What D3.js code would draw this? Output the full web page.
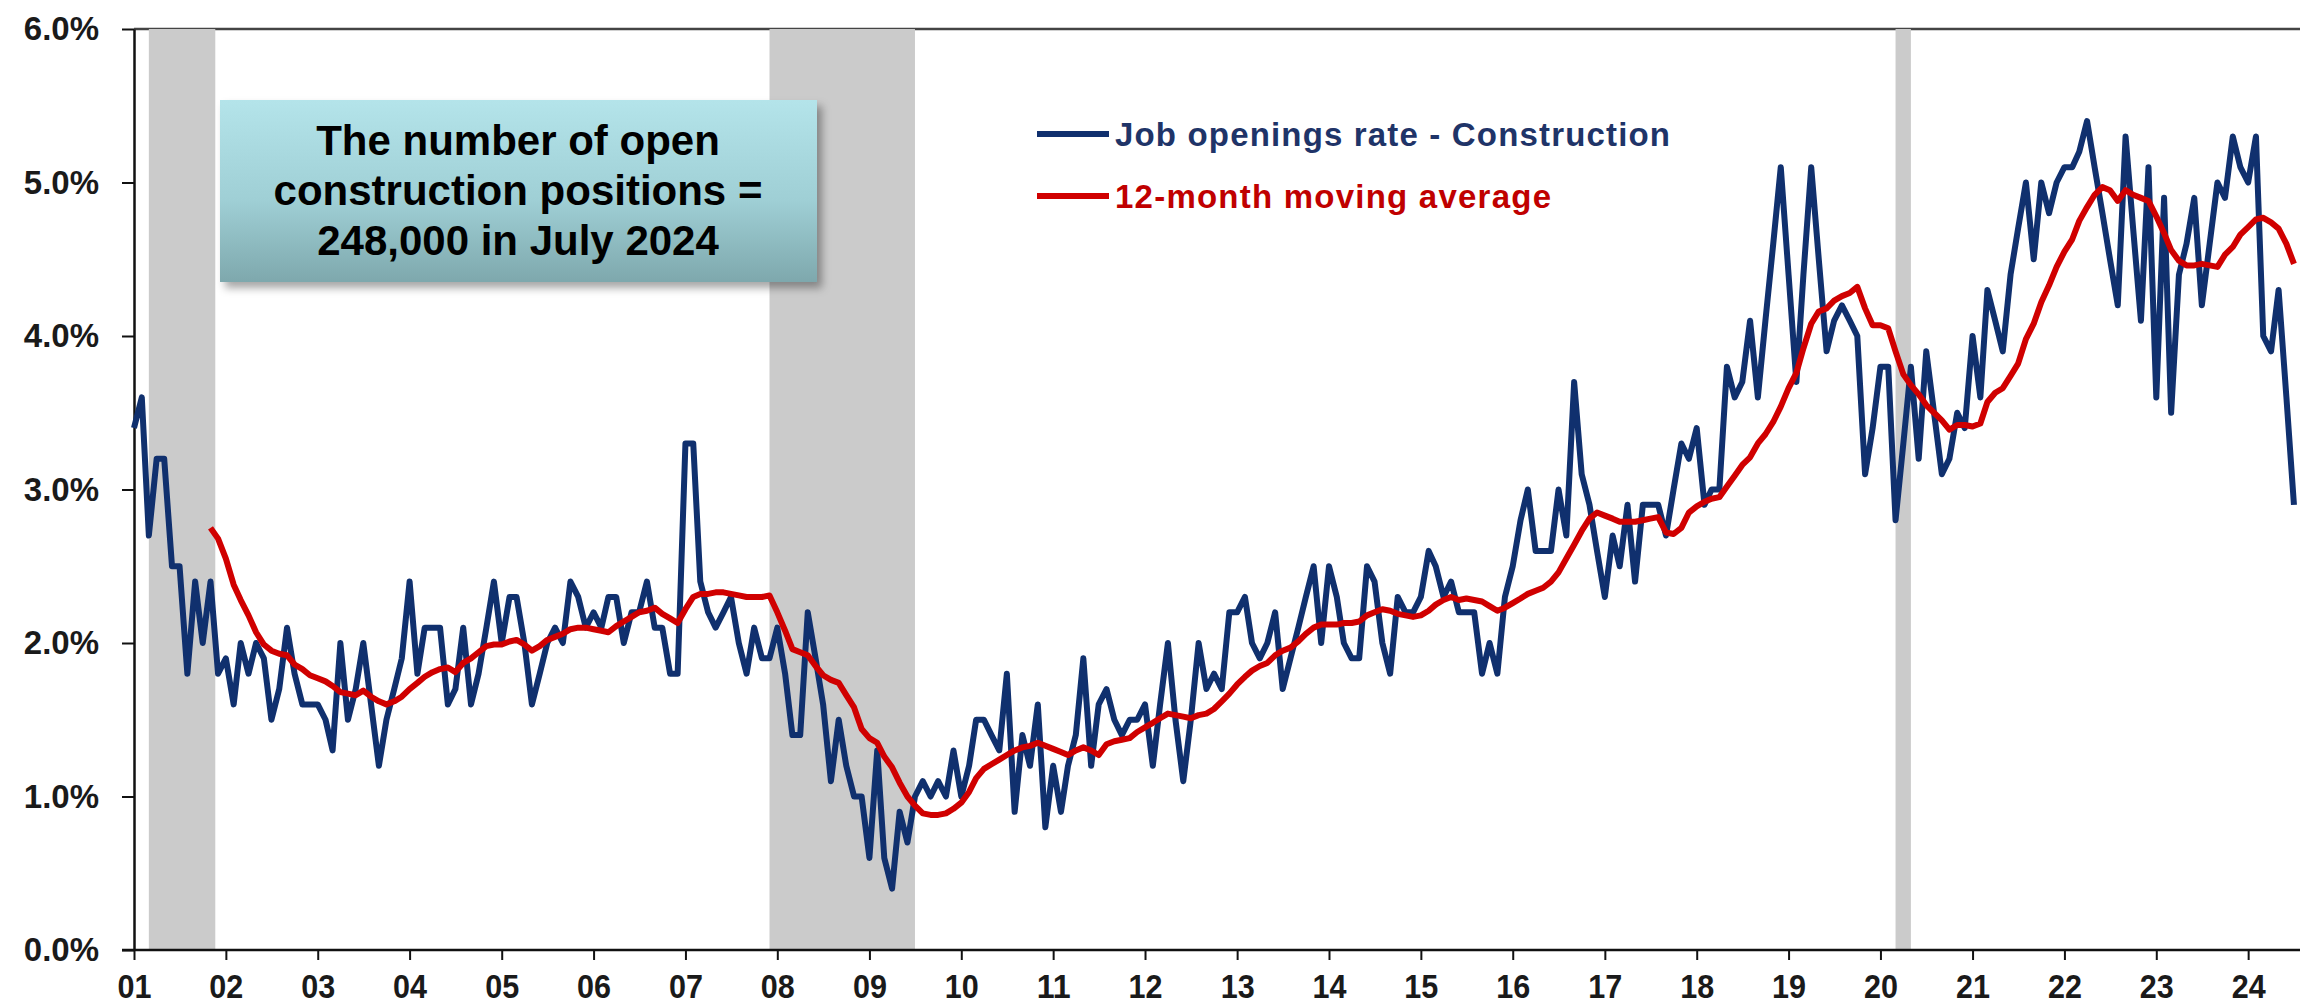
<!DOCTYPE html>
<html>
<head>
  <meta charset="utf-8">
  <title>Job openings rate - Construction</title>
  <script src="https://d3js.org/d3.v7.min.js"></script>
  <style>
    body { margin: 0; background: #fff; }
    text { font-family: "Liberation Sans", Arial, sans-serif; font-weight: bold; }
    .axis text { font-size: 33px; fill: #1a1a1a; }
  </style>
</head>
<body>
  <svg id="chart"></svg>
  <script>
    // monthly job openings rate, construction, Jan 2001 - Jul 2024 (%)
    var openingsRate = [
      3.4, 3.6, 2.7, 3.2, 3.2, 2.5, 2.5, 1.8, 2.4, 2.0, 2.4, 1.8,
      1.9, 1.6, 2.0, 1.8, 2.0, 1.9, 1.5, 1.7, 2.1, 1.8, 1.6, 1.6,
      1.6, 1.5, 1.3, 2.0, 1.5, 1.7, 2.0, 1.6, 1.2, 1.5, 1.7, 1.9,
      2.4, 1.8, 2.1, 2.1, 2.1, 1.6, 1.7, 2.1, 1.6, 1.8, 2.1, 2.4,
      2.0, 2.3, 2.3, 2.0, 1.6, 1.8, 2.0, 2.1, 2.0, 2.4, 2.3, 2.1,
      2.2, 2.1, 2.3, 2.3, 2.0, 2.2, 2.2, 2.4, 2.1, 2.1, 1.8, 1.8,
      3.3, 3.3, 2.4, 2.2, 2.1, 2.2, 2.3, 2.0, 1.8, 2.1, 1.9, 1.9,
      2.1, 1.8, 1.4, 1.4, 2.2, 1.9, 1.6, 1.1, 1.5, 1.2, 1.0, 1.0,
      0.6, 1.3, 0.6, 0.4, 0.9, 0.7, 1.0, 1.1, 1.0, 1.1, 1.0, 1.3,
      1.0, 1.2, 1.5, 1.5, 1.4, 1.3, 1.8, 0.9, 1.4, 1.2, 1.6, 0.8,
      1.2, 0.9, 1.2, 1.4, 1.9, 1.2, 1.6, 1.7, 1.5, 1.4, 1.5, 1.5,
      1.6, 1.2, 1.6, 2.0, 1.5, 1.1, 1.5, 2.0, 1.7, 1.8, 1.7, 2.2,
      2.2, 2.3, 2.0, 1.9, 2.0, 2.2, 1.7, 1.9, 2.1, 2.3, 2.5, 2.0,
      2.5, 2.3, 2.0, 1.9, 1.9, 2.5, 2.4, 2.0, 1.8, 2.3, 2.2, 2.2,
      2.3, 2.6, 2.5, 2.3, 2.4, 2.2, 2.2, 2.2, 1.8, 2.0, 1.8, 2.3,
      2.5, 2.8, 3.0, 2.6, 2.6, 2.6, 3.0, 2.7, 3.7, 3.1, 2.9, 2.6,
      2.3, 2.7, 2.5, 2.9, 2.4, 2.9, 2.9, 2.9, 2.7, 3.0, 3.3, 3.2,
      3.4, 2.9, 3.0, 3.0, 3.8, 3.6, 3.7, 4.1, 3.6, 4.1, 4.6, 5.1,
      4.4, 3.7, 4.4, 5.1, 4.5, 3.9, 4.1, 4.2, 4.1, 4.0, 3.1, 3.4,
      3.8, 3.8, 2.8, 3.3, 3.8, 3.2, 3.9, 3.5, 3.1, 3.2, 3.5, 3.4,
      4.0, 3.6, 4.3, 4.1, 3.9, 4.4, 4.7, 5.0, 4.5, 5.0, 4.8, 5.0,
      5.1, 5.1, 5.2, 5.4, 5.1, 4.8, 4.5, 4.2, 5.3, 4.7, 4.1, 5.1,
      3.6, 4.9, 3.5, 4.4, 4.6, 4.9, 4.2, 4.6, 5.0, 4.9, 5.3, 5.1,
      5.0, 5.3, 4.0, 3.9, 4.3, 3.6, 2.9
    ];

    // 12-month moving average, Nov 2001 - Jul 2024 (%)
    var movingAvg = [
                                                      2.75, 2.68,
      2.55, 2.38, 2.28, 2.18, 2.07, 1.99, 1.95, 1.93, 1.92, 1.86, 1.83, 1.79,
      1.77, 1.75, 1.72, 1.68, 1.67, 1.66, 1.69, 1.65, 1.62, 1.60, 1.62, 1.65,
      1.70, 1.74, 1.78, 1.81, 1.83, 1.84, 1.81, 1.87, 1.90, 1.94, 1.98, 1.99,
      1.99, 2.01, 2.02, 1.99, 1.95, 1.98, 2.02, 2.04, 2.06, 2.09, 2.10, 2.10,
      2.09, 2.08, 2.07, 2.11, 2.14, 2.17, 2.20, 2.21, 2.23, 2.19, 2.16, 2.13,
      2.22, 2.30, 2.32, 2.32, 2.33, 2.33, 2.32, 2.31, 2.30, 2.30, 2.30, 2.31,
      2.20, 2.08, 1.96, 1.94, 1.92, 1.85, 1.79, 1.76, 1.74, 1.66, 1.58, 1.44,
      1.38, 1.35, 1.26, 1.19, 1.09, 1.00, 0.94, 0.89, 0.88, 0.88, 0.89, 0.92,
      0.96, 1.03, 1.12, 1.18, 1.21, 1.24, 1.27, 1.30, 1.32, 1.33, 1.35, 1.33,
      1.31, 1.29, 1.27, 1.30, 1.32, 1.30, 1.27, 1.34, 1.36, 1.37, 1.38, 1.42,
      1.45, 1.48, 1.51, 1.54, 1.53, 1.52, 1.51, 1.53, 1.54, 1.57, 1.62, 1.67,
      1.73, 1.78, 1.82, 1.85, 1.87, 1.92, 1.95, 1.97, 2.01, 2.06, 2.10, 2.12,
      2.12, 2.12, 2.13, 2.13, 2.14, 2.18, 2.20, 2.22, 2.21, 2.19, 2.18, 2.17,
      2.18, 2.21, 2.25, 2.28, 2.30, 2.28, 2.29, 2.28, 2.27, 2.24, 2.21, 2.23,
      2.26, 2.29, 2.32, 2.34, 2.36, 2.40, 2.46, 2.55, 2.64, 2.73, 2.81, 2.85,
      2.83, 2.81, 2.79, 2.79, 2.79, 2.80, 2.81, 2.82, 2.72, 2.71, 2.75, 2.85,
      2.89, 2.92, 2.94, 2.95, 3.02, 3.09, 3.16, 3.21, 3.30, 3.36, 3.44, 3.54,
      3.66, 3.76, 3.92, 4.08, 4.16, 4.18, 4.23, 4.26, 4.28, 4.32, 4.18, 4.07,
      4.07, 4.05, 3.90, 3.75, 3.68, 3.62, 3.55, 3.50, 3.45, 3.39, 3.42, 3.42,
      3.41, 3.43, 3.57, 3.63, 3.66, 3.74, 3.82, 3.98, 4.08, 4.22, 4.33, 4.45,
      4.55, 4.63, 4.75, 4.84, 4.92, 4.97, 4.95, 4.88, 4.95, 4.92, 4.90, 4.88,
      4.78, 4.67, 4.56, 4.49, 4.46, 4.46, 4.47, 4.46, 4.45, 4.53, 4.58, 4.66,
      4.71, 4.76, 4.77, 4.74, 4.70, 4.60, 4.47
    ];

    // recessions (shaded)
    var recessionStarts = ["2001-03-01", "2007-12-01", "2020-03-01"];
    var recessionEnds   = ["2001-11-20", "2009-07-01", "2020-05-01"];

    var yTicks = [0, 1, 2, 3, 4, 5, 6];
    var seriesNames = ["Job openings rate - Construction", "12-month moving average"];
    var boxLines = ["The number of open", "construction positions =", "248,000 in July 2024"];

    var W = 2300, H = 1008;
    var margin = {top: 29, right: 0, bottom: 58, left: 134};
    var firstMonth = new Date(2001, 0, 1);
    var maStart = 10; // moving average begins with the 11th month

    var parse = d3.timeParse("%Y-%m-%d");
    var blueData = openingsRate.map(function(v, i) {
      return {date: d3.timeMonth.offset(firstMonth, i), value: v};
    });
    var redData = movingAvg.map(function(v, i) {
      return {date: d3.timeMonth.offset(firstMonth, i + maStart), value: v};
    });

    var svg = d3.select("#chart").attr("width", W).attr("height", H);

    var x = d3.scaleTime()
      .domain([firstMonth, new Date(2024, 6, 25)])
      .range([margin.left, W - margin.right]);
    var y = d3.scaleLinear()
      .domain([0, 6])
      .range([H - margin.bottom, margin.top]);

    var defs = svg.append("defs");
    var grad = defs.append("linearGradient")
      .attr("id", "boxGrad").attr("x1", 0).attr("y1", 0).attr("x2", 0).attr("y2", 1);
    grad.append("stop").attr("offset", "0%").attr("stop-color", "#b4e4ea");
    grad.append("stop").attr("offset", "55%").attr("stop-color", "#9fcfd5");
    grad.append("stop").attr("offset", "100%").attr("stop-color", "#7ea8ad");
    var shadow = defs.append("filter").attr("id", "shadow")
      .attr("x", "-10%").attr("y", "-10%").attr("width", "130%").attr("height", "140%");
    shadow.append("feDropShadow").attr("dx", 5).attr("dy", 6)
      .attr("stdDeviation", 4).attr("flood-color", "#000").attr("flood-opacity", 0.35);

    // top frame line
    svg.append("line")
      .attr("x1", margin.left).attr("x2", W)
      .attr("y1", y(6)).attr("y2", y(6))
      .attr("stroke", "#444").attr("stroke-width", 2.5);

    // recession bars
    svg.selectAll(".recession")
      .data(recessionStarts)
      .enter()
      .append("rect")
      .attr("class", "recession")
      .attr("x", function(d) { return x(parse(d)); })
      .attr("width", function(d, i) { return x(parse(recessionEnds[i])) - x(parse(d)); })
      .attr("y", y(6))
      .attr("height", y(0) - y(6))
      .attr("fill", "#cbcbcb");

    // y axis
    var yAxis = svg.append("g")
      .attr("class", "axis")
      .attr("transform", "translate(" + margin.left + ",0)")
      .call(d3.axisLeft(y)
        .tickValues(yTicks)
        .tickFormat(function(d) { return d.toFixed(1) + "%"; })
        .tickSize(12)
        .tickSizeOuter(0)
        .tickPadding(23));

    // x axis
    var xAxis = svg.append("g")
      .attr("class", "axis")
      .attr("transform", "translate(0," + y(0) + ")")
      .call(d3.axisBottom(x)
        .ticks(d3.timeYear.every(1))
        .tickFormat(d3.timeFormat("%y"))
        .tickSize(10)
        .tickSizeOuter(0)
        .tickPadding(14));

    // year labels are a little taller and narrower than plain Arial
    xAxis.selectAll(".tick text")
      .style("font-size", "34px")
      .attr("textLength", 34)
      .attr("lengthAdjust", "spacingAndGlyphs");

    svg.selectAll(".axis .domain").attr("stroke", "#111").attr("stroke-width", 2.5);
    svg.selectAll(".axis .tick line").attr("stroke", "#111").attr("stroke-width", 2);
    xAxis.select(".domain").attr("d", "M" + (margin.left - 12) + ",0H" + W);

    // lines
    var line = d3.line()
      .x(function(d) { return x(d.date); })
      .y(function(d) { return y(d.value); });

    svg.append("path")
      .datum(blueData)
      .attr("fill", "none")
      .attr("stroke", "#10306e")
      .attr("stroke-width", 6)
      .attr("stroke-linejoin", "round")
      .attr("d", line);

    svg.append("path")
      .datum(redData)
      .attr("fill", "none")
      .attr("stroke", "#d00000")
      .attr("stroke-width", 6)
      .attr("stroke-linejoin", "round")
      .attr("d", line);

    // annotation box
    var box = svg.append("g");
    box.append("rect")
      .attr("x", 220).attr("y", 100)
      .attr("width", 597).attr("height", 182)
      .attr("fill", "url(#boxGrad)")
      .attr("filter", "url(#shadow)");
    box.selectAll("text")
      .data(boxLines)
      .enter()
      .append("text")
      .attr("x", 518)
      .attr("y", function(d, i) { return 155 + i * 50; })
      .attr("text-anchor", "middle")
      .style("font-size", "42px")
      .style("fill", "#000")
      .text(function(d) { return d; });

    // legend
    var legendColors = ["#10306e", "#d00000"];
    var legendText = ["#1f3468", "#c00000"];
    var legendWidths = [555, 436];
    var legend = svg.append("g").attr("transform", "translate(1037,134)");
    var items = legend.selectAll("g")
      .data(seriesNames)
      .enter()
      .append("g")
      .attr("transform", function(d, i) { return "translate(0," + (i * 62) + ")"; });
    items.append("line")
      .attr("x1", 0).attr("x2", 72)
      .attr("stroke", function(d, i) { return legendColors[i]; })
      .attr("stroke-width", 6);
    items.append("text")
      .attr("x", 78)
      .attr("dy", "0.36em")
      .attr("textLength", function(d, i) { return legendWidths[i]; })
      .attr("lengthAdjust", "spacing")
      .style("font-size", "33px")
      .style("fill", function(d, i) { return legendText[i]; })
      .text(function(d) { return d; });
  </script>
</body>
</html>
